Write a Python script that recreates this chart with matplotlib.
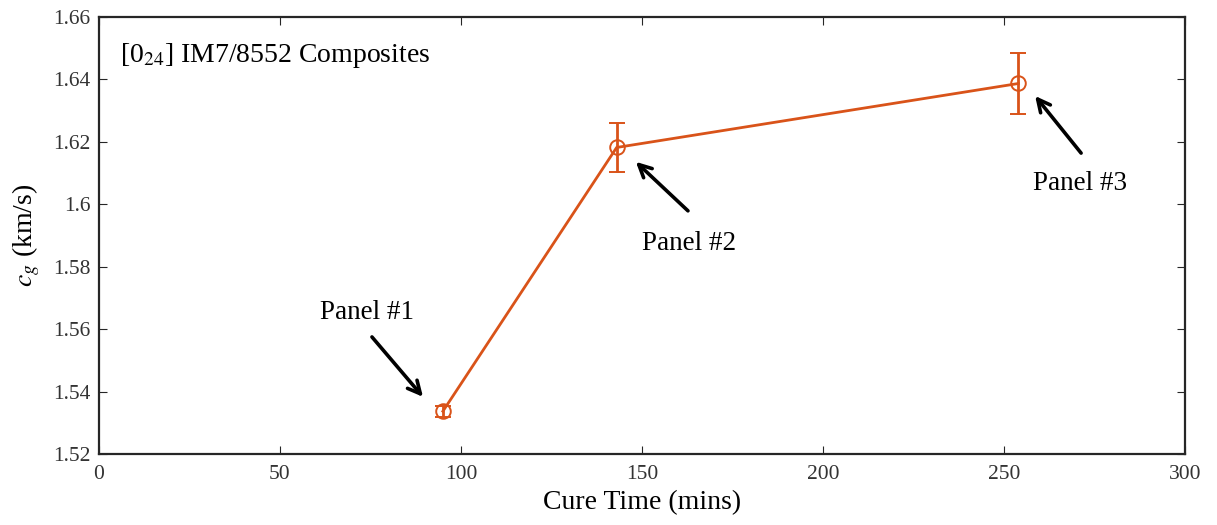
import numpy as np
import matplotlib.pyplot as plt

plt.rcParams['font.family'] = ['Liberation Serif', 'DejaVu Serif']
plt.rcParams['mathtext.fontset'] = 'stix'

# dados
cure_time = [95, 143, 254]
cg = [1.5337, 1.6182, 1.6387]
cg_err = [0.0018, 0.0077, 0.0098]
panels = ['Panel #1', 'Panel #2', 'Panel #3']
xticks = [0, 50, 100, 150, 200, 250, 300]
yticks = [1.52, 1.54, 1.56, 1.58, 1.60, 1.62, 1.64, 1.66]
ytick_labels = ['1.52', '1.54', '1.56', '1.58', '1.6', '1.62', '1.64', '1.66']

# posicao dos textos e setas (texto, cauda, ponta)
txt_pos = [(74, 1.5652), (163, 1.5873), (271, 1.6068)]
seta_cauda = [(75.4, 1.5575), (162.7, 1.5979), (271.3, 1.6164)]
seta_ponta = [(89.5, 1.5383), (148.3, 1.6136), (258.6, 1.6347)]

cor = '#D95319'
cinza = '#262626'

fig = plt.figure(figsize=(12.17, 5.25), dpi=100)
ax = fig.add_axes([99/1217, 1 - 454/525, (1185-99)/1217, (454-17)/525])

ax.errorbar(cure_time, cg, yerr=cg_err, color=cor, lw=2, marker='o', ms=10.5,
            mfc='none', mec=cor, mew=1.4, capsize=5.5, capthick=2, elinewidth=2)

for i in range(3):
    ax.text(txt_pos[i][0], txt_pos[i][1], panels[i], fontsize=19.5,
            ha='center', va='center')
    ax.annotate('', xy=seta_ponta[i], xytext=seta_cauda[i],
                arrowprops=dict(arrowstyle='->,head_length=0.9,head_width=0.45',
                                color='k', lw=2.6, shrinkA=0, shrinkB=0))

ax.text(5.8, 1.6478, r'[0$_{24}$] IM7/8552 Composites', fontsize=20,
        va='center', ha='left')

ax.set_xlim(0, 300)
ax.set_ylim(1.52, 1.66)
ax.set_xticks(xticks)
ax.set_yticks(yticks)
ax.set_yticklabels(ytick_labels)
ax.tick_params(direction='in', top=True, right=True, labelsize=15.5, length=6,
               colors=cinza, labelcolor='#333333')
ax.tick_params(axis='x', pad=8)
ax.tick_params(axis='y', pad=6)
for s in ax.spines.values():
    s.set_linewidth(1.6)
    s.set_color(cinza)

ax.set_xlabel('Cure Time (mins)', fontsize=20, labelpad=4)
ax.set_ylabel(r'$c_g$ (km/s)', fontsize=20, labelpad=8)

plt.savefig('out.png', dpi=100)
